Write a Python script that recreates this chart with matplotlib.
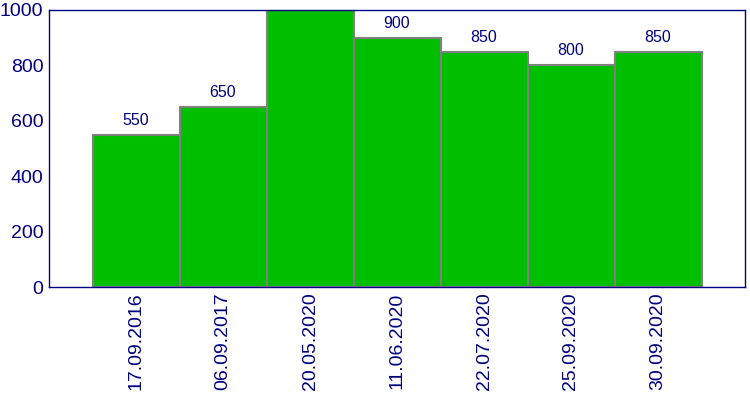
import matplotlib
matplotlib.use("Agg")
import matplotlib.pyplot as plt

dates = ["17.09.2016", "06.09.2017", "20.05.2020", "11.06.2020", "22.07.2020", "25.09.2020", "30.09.2020"]
values = [550, 650, 1000, 900, 850, 800, 850]

plt.rcParams['font.family'] = ['Liberation Sans', 'DejaVu Sans']
navy = '#000080'

fig = plt.figure(figsize=(7.5, 4), dpi=100)
ax = fig.add_axes([49/750, 1-287/400, (745-49)/750, (287-10)/400])
x = list(range(len(dates)))
bars = ax.bar(x, values, width=1.0, color='#00BF00', edgecolor='#808080', linewidth=1.5)
for xi, v in zip(x, values):
    ax.annotate(str(v), (xi, v), xytext=(0, 5), textcoords='offset points',
                ha='center', va='bottom', color=navy, fontsize=11.5, annotation_clip=False)
ax.set_xlim(-1.0, 7.0)
ax.set_ylim(0, 1000)
ax.set_yticks([0, 200, 400, 600, 800, 1000])
ax.set_xticks(x)
ax.set_xticklabels(dates, rotation=90)
ax.tick_params(length=0, colors=navy, labelsize=14, pad=4)
for s in ax.spines.values():
    s.set_color(navy)
    s.set_linewidth(1)
fig.savefig("out.png", dpi=100)
